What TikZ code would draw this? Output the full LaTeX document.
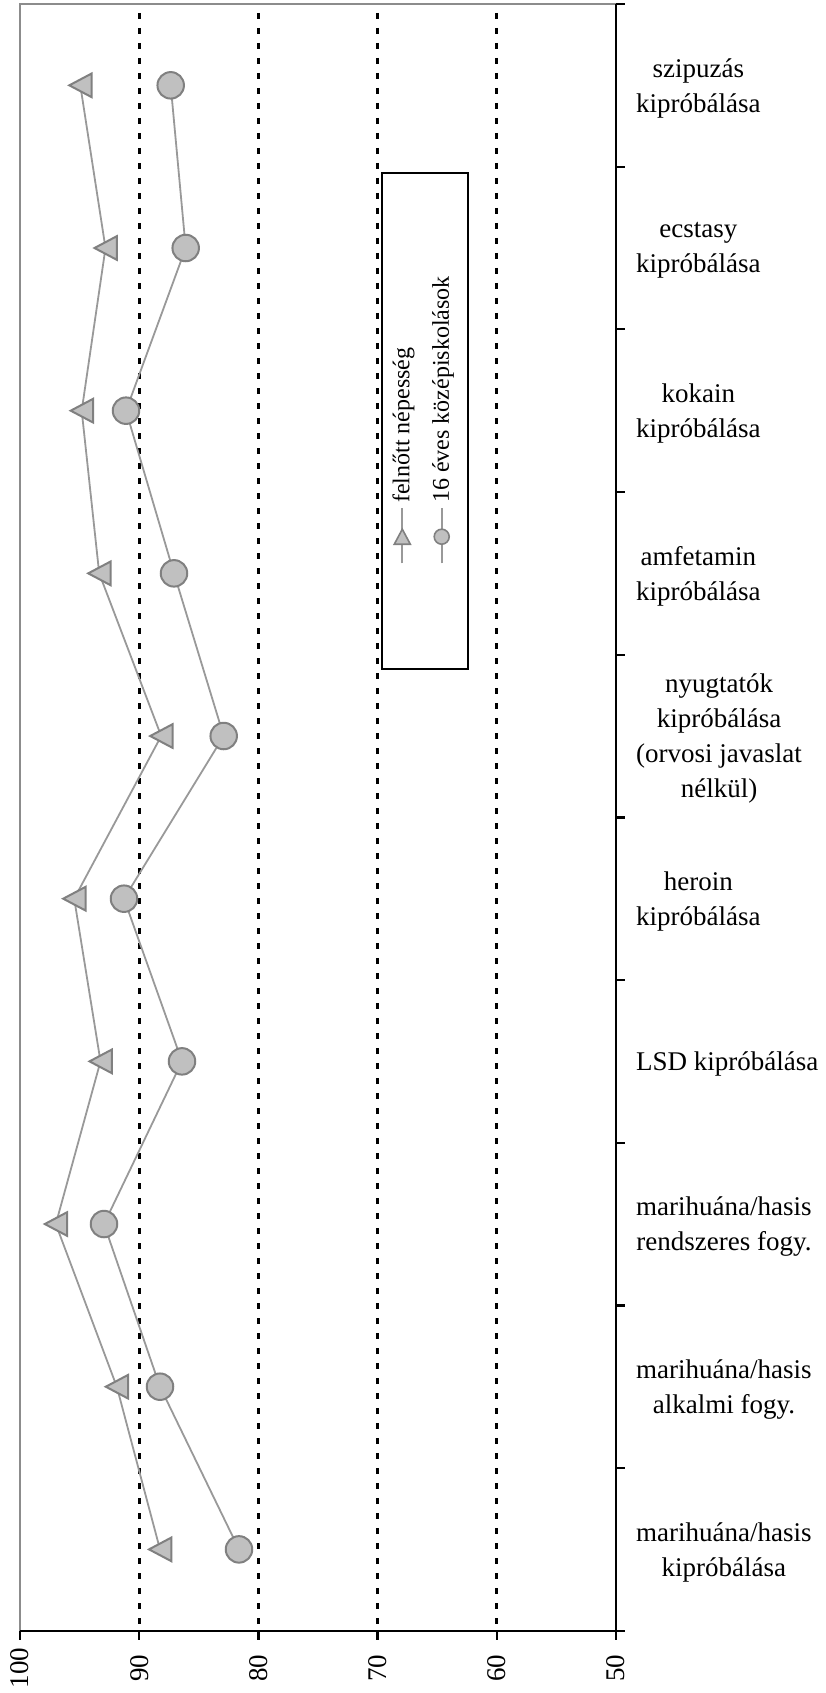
\documentclass[tikz,border=0pt]{standalone}
\usepackage{fontspec}
\setmainfont{Liberation Serif}
\definecolor{serline}{HTML}{999999}
\definecolor{markedge}{HTML}{808080}
\definecolor{markfill}{HTML}{C0C0C0}
\definecolor{framegray}{HTML}{8C8C8C}
\tikzset{
  gridln/.style={black, line width=2.8pt, dash pattern=on 6pt off 9pt, dash phase=6pt},
  seriesln/.style={draw=serline, line width=1.8pt, line join=round},
  circmark/.style={circle, draw=markedge, fill=markfill, line width=2pt, minimum size=26.5pt, inner sep=0pt},
  legcirc/.style={circle, draw=markedge, fill=markfill, line width=1.6pt, minimum size=15pt, inner sep=0pt},
  trimark/.pic={\draw[draw=markedge, fill=markfill, line width=2pt] (-11,0) -- (11.3,-11.8) -- (11.3,11.8) -- cycle;},
  legtri/.pic={\draw[draw=markedge, fill=markfill, line width=1.6pt] (0,-7.5) -- (8,7.5) -- (-8,7.5) -- cycle;},
  axisln/.style={black, line width=2.3pt},
  frameln/.style={framegray, line width=1.8pt},
  catlabel/.style={anchor=west, align=center, inner sep=0pt, font=\fontsize{27}{35}\selectfont},
  vallabel/.style={rotate=90, inner sep=0pt, font=\fontsize{27}{32}\selectfont},
  leglabel/.style={rotate=90, anchor=west, inner sep=0pt, font=\fontsize{24}{28}\selectfont},
}
\begin{document}
\begin{tikzpicture}[x=1pt,y=-1pt]
\useasboundingbox (0,0) rectangle (826,1693);
% grid lines
\foreach \v in {90,80,70,60}{
  \draw[gridln] ({20+(100-\v)*11.92},4) -- ({20+(100-\v)*11.92},1630.7);
}
\draw[black, line width=1pt, dash pattern=on 6pt off 9pt, dash phase=6pt] (19.3,4) -- (19.3,1630.7);
% frame
\coordinate (tl) at (20,4);
\coordinate (tr) at (616,4);
\coordinate (bl) at (20,1630.7);
\coordinate (br) at (616,1630.7);
\coordinate (bre) at (625,1630.7);
\draw[frameln] (bl) -- (tl) -- (tr);
\draw[axisln] (tr) -- (br);
\draw[axisln] (bl) -- (bre);
% ticks right
\foreach \k in {0,...,10}{
  \draw[axisln] (616,{4+162.67*\k}) -- (625,{4+162.67*\k});
}
% ticks bottom and labels
\foreach \v [count=\i] in {100,90,80,70,60,50}{
  \draw[axisln] ({20+(100-\v)*11.92},1630.7) -- ({20+(100-\v)*11.92},1639.5);
  \node[vallabel] (val\i) at ({20+(100-\v)*11.92},1668) {\v};
}
% data coordinates
\foreach \xa/\xs [count=\i] in {80.3/170.7, 105.5/185.7, 81.7/126, 99.2/174, 161.2/223.7, 74.2/124, 100.5/182, 55.8/104, 116.8/160, 160/239}{
  \coordinate (a\i) at (\xa,{4+162.67*(\i-0.5)});
  \coordinate (s\i) at (\xs,{4+162.67*(\i-0.5)});
}
\draw[seriesln] (a1) -- (a2) -- (a3) -- (a4) -- (a5) -- (a6) -- (a7) -- (a8) -- (a9) -- (a10);
\draw[seriesln] (s1) -- (s2) -- (s3) -- (s4) -- (s5) -- (s6) -- (s7) -- (s8) -- (s9) -- (s10);
\foreach \i in {1,...,10}{
  \pic at (a\i) {trimark};
  \node[circmark] (sm\i) at (s\i) {};
}
% category labels
\node[catlabel] (cat1) at (636,88) {szipuzás\\kipróbálása};
\node[catlabel] (cat2) at (636,250.7) {ecstasy\\kipróbálása};
\node[catlabel] (cat3) at (636,413.3) {kokain\\kipróbálása};
\node[catlabel] (cat4) at (636,576) {amfetamin\\kipróbálása};
\node[catlabel] (cat5) at (636,738.7) {nyugtatók\\kipróbálása\\(orvosi javaslat\\nélkül)};
\node[catlabel] (cat6) at (636,901.3) {heroin\\kipróbálása};
\node[catlabel] (cat7) at (636,1064) {LSD kipróbálása};
\node[catlabel] (cat8) at (636,1226.7) {marihuána/hasis\\rendszeres fogy.};
\node[catlabel] (cat9) at (636,1389.3) {marihuána/hasis\\alkalmi fogy.};
\node[catlabel] (cat10) at (636,1552) {marihuána/hasis\\kipróbálása};
% legend
\draw[black, line width=2.2pt, fill=white] (381.7,173) rectangle (468,669);
\coordinate (l1b) at (402.3,563.3);
\coordinate (l1t) at (402.3,508.3);
\coordinate (l2b) at (441.7,563.3);
\coordinate (l2t) at (441.7,508.3);
\draw[seriesln] (l1b) -- (l1t);
\draw[seriesln] (l2b) -- (l2t);
\pic at (402.3,536.7) {legtri};
\node[legcirc] (lc2) at (441.7,536.7) {};
\node[leglabel] (lt1) at (403.5,503) {felnőtt népesség};
\node[leglabel] (lt2) at (443,503) {16 éves középiskolások};
\end{tikzpicture}
\end{document}
